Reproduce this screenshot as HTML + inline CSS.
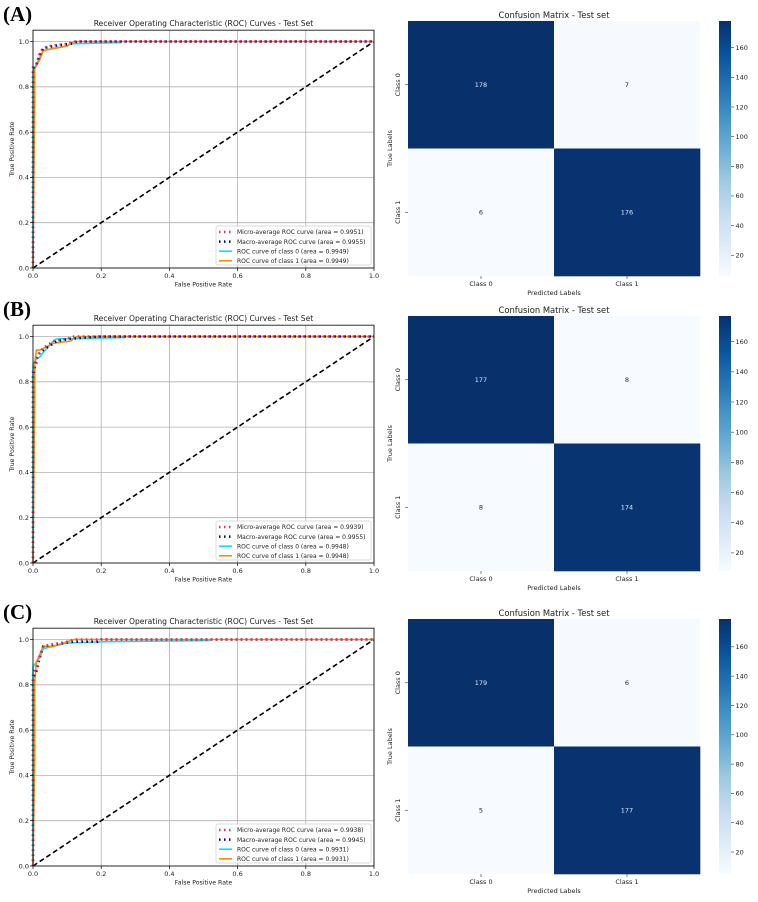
<!DOCTYPE html>
<html><head><meta charset="utf-8"><style>
html,body{margin:0;padding:0;background:#fff;}
svg{display:block;font-family:"DejaVu Sans","Liberation Sans",sans-serif;}
</style></head><body>
<svg id="fig" width="758" height="902" viewBox="0 0 758 902" xmlns="http://www.w3.org/2000/svg">
<defs>
<linearGradient id="blues" x1="0" y1="1" x2="0" y2="0">
<stop offset="0" stop-color="#f7fbff"/><stop offset="0.125" stop-color="#deebf7"/><stop offset="0.25" stop-color="#c6dbef"/><stop offset="0.375" stop-color="#9ecae1"/><stop offset="0.5" stop-color="#6baed6"/><stop offset="0.625" stop-color="#4292c6"/><stop offset="0.75" stop-color="#2171b5"/><stop offset="0.875" stop-color="#08519c"/><stop offset="1" stop-color="#08306b"/>
</linearGradient>
</defs>
</svg>
<script>
// ---- data ----
const panelLabels = ["(A)", "(B)", "(C)"];
const rowOffsets = [0, 295, 598];
const microAUC = ["0.9951", "0.9939", "0.9938"];
const macroAUC = ["0.9955", "0.9955", "0.9945"];
const class0AUC = ["0.9949", "0.9948", "0.9931"];
const class1AUC = ["0.9949", "0.9948", "0.9931"];
const microFpr = [[0,0,0.01,0.02,0.03,0.05,0.1,0.12,1],[0,0,0.01,0.015,0.03,0.06,0.1,0.12,1],[0,0,0.01,0.02,0.03,0.06,0.1,0.12,1]];
const microTpr = [[0,0.89,0.9,0.95,0.97,0.98,0.99,1,1],[0,0.85,0.88,0.92,0.95,0.98,0.99,1,1],[0,0.85,0.88,0.93,0.97,0.98,0.99,1,1]];
const macroFpr = [[0,0,0.01,0.02,0.03,0.06,0.11,0.13,1],[0,0,0.01,0.02,0.04,0.07,0.09,0.11,0.2,1],[0,0,0.01,0.02,0.03,0.07,0.12,0.19,0.2,1]];
const macroTpr = [[0,0.88,0.9,0.94,0.97,0.98,0.99,1,1],[0,0.82,0.9,0.93,0.95,0.98,0.985,0.99,1,1],[0,0.83,0.86,0.92,0.97,0.98,0.99,0.99,1,1]];
const c0Fpr = [[0,0,0.01,0.02,0.03,0.06,0.1,0.11,0.26],[0,0,0.01,0.02,0.03,0.06,0.07,0.1,0.27],[0,0,0.01,0.02,0.03,0.06,0.1,0.2,0.52]];
const c0Tpr = [[0,0.87,0.9,0.93,0.96,0.97,0.98,0.99,0.995],[0,0.88,0.9,0.91,0.93,0.98,0.99,0.99,0.995],[0,0.88,0.9,0.92,0.96,0.97,0.985,0.99,0.995]];
const c1Fpr = [[0,0.005,0.005,0.02,0.03,0.1,0.12,1],[0,0.005,0.005,0.01,0.02,0.06,0.11,0.13,1],[0,0.005,0.005,0.01,0.03,0.06,0.1,0.12,1]];
const c1Tpr = [[0,0.75,0.88,0.92,0.96,0.98,1,1],[0,0.72,0.88,0.94,0.94,0.97,0.98,1,1],[0,0.48,0.81,0.9,0.97,0.97,0.99,1,1]];
const rocTicks = [0, 0.2, 0.4, 0.6, 0.8, 1.0];
const rocTickLabels = ["0.0", "0.2", "0.4", "0.6", "0.8", "1.0"];
const classNames = ["Class 0", "Class 1"];
const cmValues = [[[178,7],[6,176]],[[177,8],[8,174]],[[179,6],[5,177]]];
const cbTicks = [20, 40, 60, 80, 100, 120, 140, 160];

// ---- helpers ----
const NS = "http://www.w3.org/2000/svg";
const svg = document.getElementById("fig");
function mk(tag, attrs, parent, text) {
  const e = document.createElementNS(NS, tag);
  for (const k in attrs) e.setAttribute(k, attrs[k]);
  if (text !== undefined) e.textContent = text;
  (parent || svg).appendChild(e);
  return e;
}
const bluesStops = ["#f7fbff","#deebf7","#c6dbef","#9ecae1","#6baed6","#4292c6","#2171b5","#08519c","#08306b"];
function hex(c){return [parseInt(c.substr(1,2),16),parseInt(c.substr(3,2),16),parseInt(c.substr(5,2),16)];}
function blues(t){
  t=Math.max(0,Math.min(1,t));const p=t*8;const i=Math.min(7,Math.floor(p));const f=p-i;
  const a=hex(bluesStops[i]),b=hex(bluesStops[i+1]);
  return "rgb("+a.map((v,j)=>Math.round(v+(b[j]-v)*f)).join(",")+")";
}

// ---- ROC panels ----
const X0 = 33, X1 = 374;
for (let r = 0; r < 3; r++) {
  const off = rowOffsets[r];
  const yZero = 268 + off, pxPerUnit = 226.5;
  const xs = v => X0 + v * (X1 - X0);
  const ys = v => yZero - v * pxPerUnit;
  const g = mk("g", {}, svg);
  
  

  const pl = mk("text", {x: 3, y: 21 + off, "font-family": "Liberation Serif, serif", "font-size": 21, "font-weight": "bold", fill: "#000"}, g, panelLabels[r]);
  
  

  const top = ys(1.05);
  rocTicks.forEach(t => {
    mk("line", {x1: xs(t), x2: xs(t), y1: top, y2: yZero, stroke: "#b0b0b0", "stroke-width": 0.8}, g);
    mk("line", {x1: X0, x2: X1, y1: ys(t), y2: ys(t), stroke: "#b0b0b0", "stroke-width": 0.8}, g);
  });
  const diag = mk("line", {x1: xs(0), y1: ys(0), x2: xs(1), y2: ys(1), stroke: "#000", "stroke-width": 1.6, "stroke-dasharray": "5,3"}, g);
  
  

  function curve(fx, ty, color, w, dash, name) {
    const d = fx.map((v, i) => (i ? "L" : "M") + xs(v).toFixed(2) + "," + ys(ty[i]).toFixed(2)).join("");
    const p = mk("path", {d: d, fill: "none", stroke: color, "stroke-width": w}, g);
    if (dash) { p.setAttribute("stroke-dasharray", dash); }
    
    
  }
  curve(c0Fpr[r], c0Tpr[r], "#00e5ff", 1.6, null, "class0-roc-line");
  curve(c1Fpr[r], c1Tpr[r], "#ff8c00", 1.6, null, "class1-roc-line");
  curve(macroFpr[r], macroTpr[r], "#000080", 2.5, "1.5,3.5", "macro-roc-line");
  curve(microFpr[r], microTpr[r], "#e0306a", 2.5, "1.5,3.5", "micro-roc-line");

  mk("rect", {x: X0, y: top, width: X1 - X0, height: yZero - top, fill: "none", stroke: "#000", "stroke-width": 0.8}, g);
  rocTicks.forEach((t, i) => {
    mk("line", {x1: xs(t), x2: xs(t), y1: yZero, y2: yZero + 3, stroke: "#000", "stroke-width": 0.7}, g);
    mk("text", {x: xs(t), y: yZero + 10, "font-size": 6.5, "text-anchor": "middle", fill: "#222"}, g, rocTickLabels[i]);
    mk("line", {x1: X0 - 3, x2: X0, y1: ys(t), y2: ys(t), stroke: "#000", "stroke-width": 0.7}, g);
    mk("text", {x: X0 - 4, y: ys(t) + 2.3, "font-size": 6.5, "text-anchor": "end", fill: "#222"}, g, rocTickLabels[i]);
  });
  const xl = mk("text", {x: (X0 + X1) / 2, y: yZero + 18.5, "font-size": 6.2, "text-anchor": "middle", fill: "#222"}, g, "False Positive Rate");
  
  
  const yl = mk("text", {x: 0, y: 0, "font-size": 6.2, "text-anchor": "middle", fill: "#222", transform: "translate(14," + ((top + yZero) / 2) + ") rotate(-90)"}, g, "True Positive Rate");
  
  
  const tt = mk("text", {x: (X0 + X1) / 2, y: top - 4, "font-size": 7.6, "text-anchor": "middle", fill: "#222"}, g, "Receiver Operating Characteristic (ROC) Curves - Test Set");
  
  

  const lg = mk("g", {}, g);
  
  
  mk("rect", {x: 216, y: yZero - 42, width: 155, height: 39, rx: 2, fill: "#fff", "fill-opacity": 0.85, stroke: "#d0d0d0", "stroke-width": 0.7}, lg);
  const ents = [
    ["#e0306a", "1.5,3.5", 2.5, "Micro-average ROC curve (area = " + microAUC[r] + ")"],
    ["#000080", "1.5,3.5", 2.5, "Macro-average ROC curve (area = " + macroAUC[r] + ")"],
    ["#00e5ff", null, 1.6, "ROC curve of class 0 (area = " + class0AUC[r] + ")"],
    ["#ff8c00", null, 1.6, "ROC curve of class 1 (area = " + class1AUC[r] + ")"]
  ];
  ents.forEach((e, i) => {
    const yy = yZero - 36 + i * 9.6;
    const ln = mk("line", {x1: 219, x2: 232, y1: yy, y2: yy, stroke: e[0], "stroke-width": e[2]}, lg);
    if (e[1]) ln.setAttribute("stroke-dasharray", e[1]);
    const tx = mk("text", {x: 237, y: yy + 2.2, "font-size": 6, fill: "#222"}, lg, e[3]);
    
    
  });
}

// ---- Confusion matrices ----
const CX0 = 408, CX1 = 700;
for (let r = 0; r < 3; r++) {
  const off = rowOffsets[r];
  const top = 21 + off, bot = 276 + off;
  const vals = cmValues[r];
  const flat = vals[0].concat(vals[1]);
  const vmin = Math.min.apply(null, flat), vmax = Math.max.apply(null, flat);
  const g = mk("g", {}, svg);
  
  
  const cw = (CX1 - CX0) / 2, ch = (bot - top) / 2;
  for (let i = 0; i < 2; i++) for (let j = 0; j < 2; j++) {
    const v = vals[i][j];
    const t = (v - vmin) / (vmax - vmin);
    const cell = mk("rect", {x: CX0 + j * cw, y: top + i * ch, width: cw + 0.3, height: ch + 0.3, fill: blues(t)}, g);
    
    
    const lab = mk("text", {x: CX0 + j * cw + cw / 2, y: top + i * ch + ch / 2 + 2.3, "font-size": 6.5, "text-anchor": "middle", fill: t > 0.5 ? "#dde8ff" : "#262626"}, g, String(v));
    
    
  }
  for (let k = 0; k < 2; k++) {
    const cx = CX0 + k * cw + cw / 2;
    mk("line", {x1: cx, x2: cx, y1: bot, y2: bot + 3, stroke: "#333", "stroke-width": 0.6}, g);
    mk("text", {x: cx, y: bot + 10, "font-size": 6.5, "text-anchor": "middle", fill: "#222"}, g, classNames[k]);
    const cy = top + k * ch + ch / 2;
    mk("line", {x1: CX0 - 3, x2: CX0, y1: cy, y2: cy, stroke: "#333", "stroke-width": 0.6}, g);
    mk("text", {x: 0, y: 0, "font-size": 6.5, "text-anchor": "middle", fill: "#222", transform: "translate(400," + cy + ") rotate(-90)"}, g, classNames[k]);
  }
  const xl = mk("text", {x: (CX0 + CX1) / 2, y: bot + 19, "font-size": 6.5, "text-anchor": "middle", fill: "#222"}, g, "Predicted Labels");
  
  
  const yl = mk("text", {x: 0, y: 0, "font-size": 6.5, "text-anchor": "middle", fill: "#222", transform: "translate(392," + ((top + bot) / 2) + ") rotate(-90)"}, g, "True Labels");
  
  
  const tt = mk("text", {x: (CX0 + CX1) / 2, y: top - 3, "font-size": 8.4, "text-anchor": "middle", fill: "#222"}, g, "Confusion Matrix - Test set");
  
  
  const cb = mk("rect", {x: 719, y: top, width: 12, height: bot - top, fill: "url(#blues)"}, g);
  
  
  const cby = v => bot - (v - vmin) / (vmax - vmin) * (bot - top);
  cbTicks.forEach(t => {
    if (t < vmin || t > vmax) return;
    mk("line", {x1: 731, x2: 734, y1: cby(t), y2: cby(t), stroke: "#333", "stroke-width": 0.6}, g);
    mk("text", {x: 735.5, y: cby(t) + 2.3, "font-size": 6.5, fill: "#222"}, g, String(t));
  });
}
</script>
</body></html>
